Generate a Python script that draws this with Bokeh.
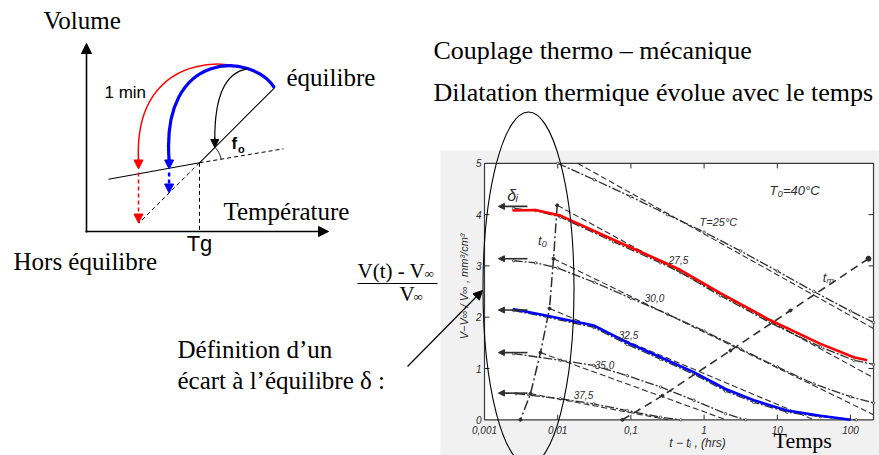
import numpy as np
from bokeh.plotting import figure
from bokeh.models import Range1d, LogScale, Arrow, NormalHead
from bokeh.core.properties import value
from bokeh.embed import file_html
from bokeh.resources import INLINE

# ======================= DATA : relaxation chart (right) =======================
time_ticks = [0.001, 0.01, 0.1, 1, 10, 100]
time_tick_labels = ["0,001", "0,01", "0,1", "1", "10", "100"]
delta_ticks = [0, 1, 2, 3, 4, 5]
delta_tick_labels = ["0", "1", "2", "3", "4", "5"]

# highlighted curves (hours, mm3/cm3)
red_t = [0.00241, 0.00498, 0.0109, 0.0578, 0.2535, 0.477, 1.67, 8.07, 38.9, 111, 169]
red_d = [4.08, 4.09, 3.98, 3.51, 3.10, 2.92, 2.47, 1.94, 1.48, 1.22, 1.16]
blue_t = [0.00244, 0.00719, 0.0311, 0.0889, 0.2535, 0.723, 1.96, 4.78, 13.6, 38.9, 100]
blue_d = [2.16, 2.03, 1.84, 1.51, 1.22, 0.93, 0.60, 0.38, 0.18, 0.08, 0.0]

# original (black) curves, one per ageing temperature
t_25 = [0.01, 0.0316, 0.1, 0.316, 1, 3.16, 10, 31.6, 100, 206]
d_25 = [5.0, 4.68, 4.35, 4.0, 3.66, 3.29, 2.90, 2.50, 2.12, 1.90]
t_275 = [0.0025, 0.005, 0.0109, 0.0578, 0.2535, 0.477, 1.67, 8.07, 38.9, 111, 206]
d_275 = [4.12, 4.08, 3.95, 3.47, 3.06, 2.87, 2.42, 1.89, 1.42, 1.16, 1.08]
t_30 = [0.0025, 0.005, 0.01, 0.0316, 0.1, 0.316, 1, 3.16, 10, 31.6, 100, 206]
d_30 = [3.10, 3.06, 2.96, 2.68, 2.37, 2.06, 1.73, 1.38, 1.03, 0.70, 0.45, 0.33]
t_325 = [0.0025, 0.00719, 0.0311, 0.0889, 0.2535, 0.723, 1.96, 4.78, 13.6, 38.9, 120]
d_325 = [2.13, 2.00, 1.80, 1.47, 1.18, 0.89, 0.56, 0.34, 0.15, 0.06, 0.0]
t_35 = [0.0025, 0.0109, 0.031, 0.089, 0.254, 0.723, 1.96, 3.7]
d_35 = [1.29, 1.16, 1.06, 0.86, 0.64, 0.38, 0.12, 0.0]
t_375 = [0.0027, 0.0109, 0.031, 0.089, 0.254, 0.48]
d_375 = [0.51, 0.41, 0.31, 0.18, 0.05, 0.0]

# straight (dashed) approximations
dash_t = [[0.0187, 206], [0.00993, 206], [0.00877, 206], [0.00773, 31.6], [0.00582, 2.0], [0.00425, 0.32]]
dash_d = [[5.0, 1.78], [4.18, 0.82], [3.14, 0.10], [2.17, 0.0], [1.31, 0.0], [0.51, 0.0]]

# t0 and tm curves
t0_t = [0.00984, 0.00877, 0.00773, 0.00582, 0.00425, 0.0031]
t0_d = [4.18, 3.14, 2.17, 1.31, 0.51, 0.0]
tm_t = [0.0767, 0.270, 2.29, 15.1, 176]
tm_d = [0.0, 0.47, 1.35, 2.13, 3.14]

# initial departures delta_i
delta_i = [4.16, 3.14, 2.14, 1.31, 0.52]

chart_labels = ["T\u2080=40\u00b0C", "T=25\u00b0C", "27,5", "30,0", "32,5", "35,0", "37,5", "t\u2080", "t\u2098", "\u03b4\u1d62"]

# ======================= layout / geometry =======================
W, H = 879, 455
FL, FR, FT, FB = 484.0, 873.0, 162.8, 419.3     # inner chart frame (px)
DEC = 73.2                                       # px per decade
UNIT = 51.3                                      # px per mm3/cm3

lx_start = 10 ** (-3 - FL / DEC)
lx_end = 10 ** (-3 + (W - FL) / DEC)
ly_start = -(H - FB) / UNIT
ly_end = FB / UNIT
t_right = 10 ** (-3 + (FR - FL) / DEC)

p = figure(width=W, height=H, x_range=Range1d(0, W), y_range=Range1d(H, 0),
           x_axis_location=None, y_axis_location=None, toolbar_location=None,
           output_backend="svg", min_border=0, outline_line_color=None,
           background_fill_color="white", border_fill_color="white")
p.grid.grid_line_color = None
p.extra_x_ranges = {"lx": Range1d(lx_start, lx_end)}
p.extra_x_scales = {"lx": LogScale()}
p.extra_y_ranges = {"ly": Range1d(ly_start, ly_end)}
R = dict(x_range_name="lx", y_range_name="ly")

SERIF = value("Liberation Serif")
SANS = value("Liberation Sans")
INK = "#2e2e2e"


def txt(x, y, s, size, font=SERIF, align="left", style="normal"):
    p.text(x=[x], y=[y], text=[s], text_font=font, text_font_size=value(size),
           text_color="black", text_baseline="alphabetic", text_align=align,
           text_font_style=style)


def arrow(x0, y0, x1, y1, color="black", size=8, width=1.2, dash="solid", rng=None):
    extra = rng if rng else {}
    p.add_layout(Arrow(end=NormalHead(size=size, fill_color=color, line_color=color, line_width=1),
                       x_start=x0, y_start=y0, x_end=x1, y_end=y1, line_color=color,
                       line_width=width, line_dash=dash, **extra))


# ---------------- scanned chart background ----------------
p.quad(left=[440], right=[W], top=[150], bottom=[H], fill_color="#f1f1f1", line_color=None)
p.quad(left=[time_ticks[0]], right=[t_right], bottom=[delta_ticks[0]], top=[delta_ticks[-1]],
       fill_color="white", line_color="#3a3a3a", line_width=1.2, **R)

# tick marks
tk = 10 ** (5 / DEC)
p.segment(x0=time_ticks[1:5], y0=[5] * 4, x1=time_ticks[1:5], y1=[4.9] * 4, line_color=INK, **R)
p.segment(x0=time_ticks[1:], y0=[0] * 5, x1=time_ticks[1:], y1=[0.1] * 5, line_color=INK, **R)
p.segment(x0=[t_right] * 4, y0=delta_ticks[1:5], x1=[t_right / tk] * 4, y1=delta_ticks[1:5], line_color=INK, **R)
p.segment(x0=[time_ticks[0]] * 4, y0=delta_ticks[1:5], x1=[time_ticks[0] * tk] * 4, y1=delta_ticks[1:5], line_color=INK, **R)

p.text(x=time_ticks, y=[0] * 6, text=time_tick_labels, y_offset=10, text_font=SANS,
       text_font_style="italic", text_font_size=value("10px"), text_align="center",
       text_baseline="middle", text_color=INK, **R)
p.text(x=[time_ticks[0]] * 6, y=delta_ticks, text=delta_tick_labels, x_offset=-3, text_font=SANS,
       text_font_style="italic", text_font_size=value("10px"), text_align="right",
       text_baseline="middle", text_color=INK, **R)

# original curves
for tt, dd in [(t_25, d_25), (t_275, d_275), (t_30, d_30), (t_325, d_325), (t_35, d_35), (t_375, d_375)]:
    p.line(tt, dd, line_color=INK, line_width=1.3, line_dash="9 2 2 2", **R)
    p.scatter(tt, dd, size=2.5, marker="circle", fill_color="white", line_color=INK, line_width=0.8, **R)
for tt, dd in zip(dash_t, dash_d):
    p.line(tt, dd, line_color=INK, line_width=1.1, line_dash="6 3", **R)

p.line(t0_t, t0_d, line_color=INK, line_width=1.5, line_dash="10 3 2 3", **R)
p.scatter(t0_t, t0_d, size=3, marker="circle", fill_color=INK, line_color=INK, **R)
p.line(tm_t, tm_d, line_color=INK, line_width=1.6, line_dash="8 5", **R)
p.scatter(tm_t, tm_d, size=3, marker="circle", fill_color=INK, line_color=INK, **R)
p.scatter([tm_t[-1]], [tm_d[-1]], size=5, marker="circle", fill_color=INK, line_color=INK, **R)

for d in delta_i:
    arrow(0.00386, d, 0.00155, d, color=INK, size=6, width=1.6, rng=R)

# highlighted curves
p.line(red_t, red_d, line_color="#ff0000", line_width=2.6, **R)
p.line(blue_t, blue_d, line_color="#0000ff", line_width=2.6, **R)

# chart annotations
lab_t = [17.2, 1.57, 0.447, 0.21, 0.0927, 0.0436, 0.0225, 0.0062, 50, 0.00242]
lab_d = [4.47, 3.85, 3.11, 2.38, 1.65, 1.06, 0.48, 3.50, 2.77, 4.37]
lab_size = ["13px", "11px", "10px", "10px", "10px", "10px", "10px", "13px", "13px", "16px"]
for t_, d_, s_, z_ in zip(lab_t, lab_d, chart_labels, lab_size):
    p.text(x=[t_], y=[d_], text=[s_], text_font=SANS, text_font_style="italic",
           text_font_size=value(z_), text_align="center", text_baseline="middle",
           text_color=INK, **R)
p.text(x=[0.813], y=[-0.46], text=["t \u2212 t\u1d62 , (hrs)"], text_font=SANS,
       text_font_style="italic", text_font_size=value("12px"), text_align="center",
       text_baseline="middle", text_color=INK, **R)
p.text(x=[0.000517], y=[2.6], text=["V\u2212V\u221e / V\u221e , mm\u00b3/cm\u00b3"], angle=np.pi / 2,
       text_font=SANS, text_font_style="italic", text_font_size=value("11px"),
       text_align="center", text_baseline="middle", text_color=INK, **R)

# ellipse around delta_i
p.ellipse(x=[528], y=[288], width=[91], height=[353], fill_color=None, line_color="black", line_width=1.1)

# ======================= schematic (left), screen-like coordinates =======================
arrow(86, 232, 86, 43, size=10, width=1.6)
arrow(85, 231, 328, 231, size=10, width=1.6)

glass_x, glass_y = [108, 199], [178.7, 162.3]
glass_ext_x, glass_ext_y = [199, 283], [162.3, 148.3]
eq_x, eq_y = [199, 274], [162.3, 87.3]
eq_ext_x, eq_ext_y = [199, 138.3], [162.3, 222.7]
tg_x, tg_y = [199, 199], [162.3, 231]

p.line(glass_x, glass_y, line_color="black", line_width=1.1)
p.line(eq_x, eq_y, line_color="black", line_width=1.1)
p.line(glass_ext_x, glass_ext_y, line_color="black", line_width=1.0, line_dash="4 3")
p.line(eq_ext_x, eq_ext_y, line_color="black", line_width=1.0, line_dash="4 3")
p.line(tg_x, tg_y, line_color="black", line_width=1.0, line_dash="4 3")

# quench paths
p.bezier(x0=[274], y0=[87.3], x1=[138], y1=[160], cx0=[252], cy0=[52], cx1=[132], cy1=[42],
         line_color="#ff0000", line_width=1.5)
p.bezier(x0=[274], y0=[87.3], x1=[168.6], y1=[160], cx0=[252], cy0=[52], cx1=[160], cy1=[48],
         line_color="#0000ff", line_width=3.2)
p.bezier(x0=[246.7], y0=[68.3], x1=[214.3], y1=[139], cx0=[225], cy0=[72], cx1=[214], cy1=[95],
         line_color="black", line_width=1.2)
arrow(138, 158, 138, 168.5, color="#ff0000", size=9, width=1.5)
arrow(138, 172, 138, 222.5, color="#ff0000", size=9, width=1.5, dash="4 3")
arrow(168.6, 158, 168.6, 168.5, color="#0000ff", size=9, width=3)
arrow(168.6, 172, 168.6, 192.5, color="#0000ff", size=9, width=2.5, dash="4 3")
arrow(214.3, 137, 214.3, 147, color="black", size=8, width=1.2)

# angle arc
a = np.linspace(np.deg2rad(-45), np.deg2rad(-9.5), 20)
p.line(199.3 + 21.6 * np.cos(a), 162.3 + 21.6 * np.sin(a), line_color="black", line_width=1.0)

# ======================= texts =======================
txt(43, 20, "Volume", "25px")
txt(286, 77, "équilibre", "25px")
txt(223, 211, "Température", "25px")
txt(13, 261, "Hors équilibre", "25px")
txt(433, 50, "Couplage thermo \u2013 mécanique", "26px")
txt(433, 92, "Dilatation thermique évolue avec le temps", "26px")
txt(177, 349, "Définition d\u2019un", "25px")
txt(177, 380, "écart à l\u2019équilibre \u03b4 :", "25px")
txt(773, 440, "Temps", "22px")

txt(104, 92, "1 min", "17px", font=SANS)
txt(199, 243, "Tg", "22px", font=SANS, align="center")
txt(231, 143, "f", "17px", font=SANS, style="bold")
txt(237.5, 148, "o", "11px", font=SANS, style="bold")

# fraction V(t) - Vinf / Vinf
txt(357, 270, "V(t) - V", "21px")
txt(424, 273, "\u221e", "13px")
p.segment(x0=[357], y0=[283], x1=[437], y1=[283], line_color="black", line_width=1.0)
txt(399, 293, "V", "21px")
txt(413, 296, "\u221e", "13px")

# pointer arrow from definition to chart
arrow(407, 366, 482, 290, size=9, width=1.2)

open("out.html", "w").write(file_html(p, INLINE))
